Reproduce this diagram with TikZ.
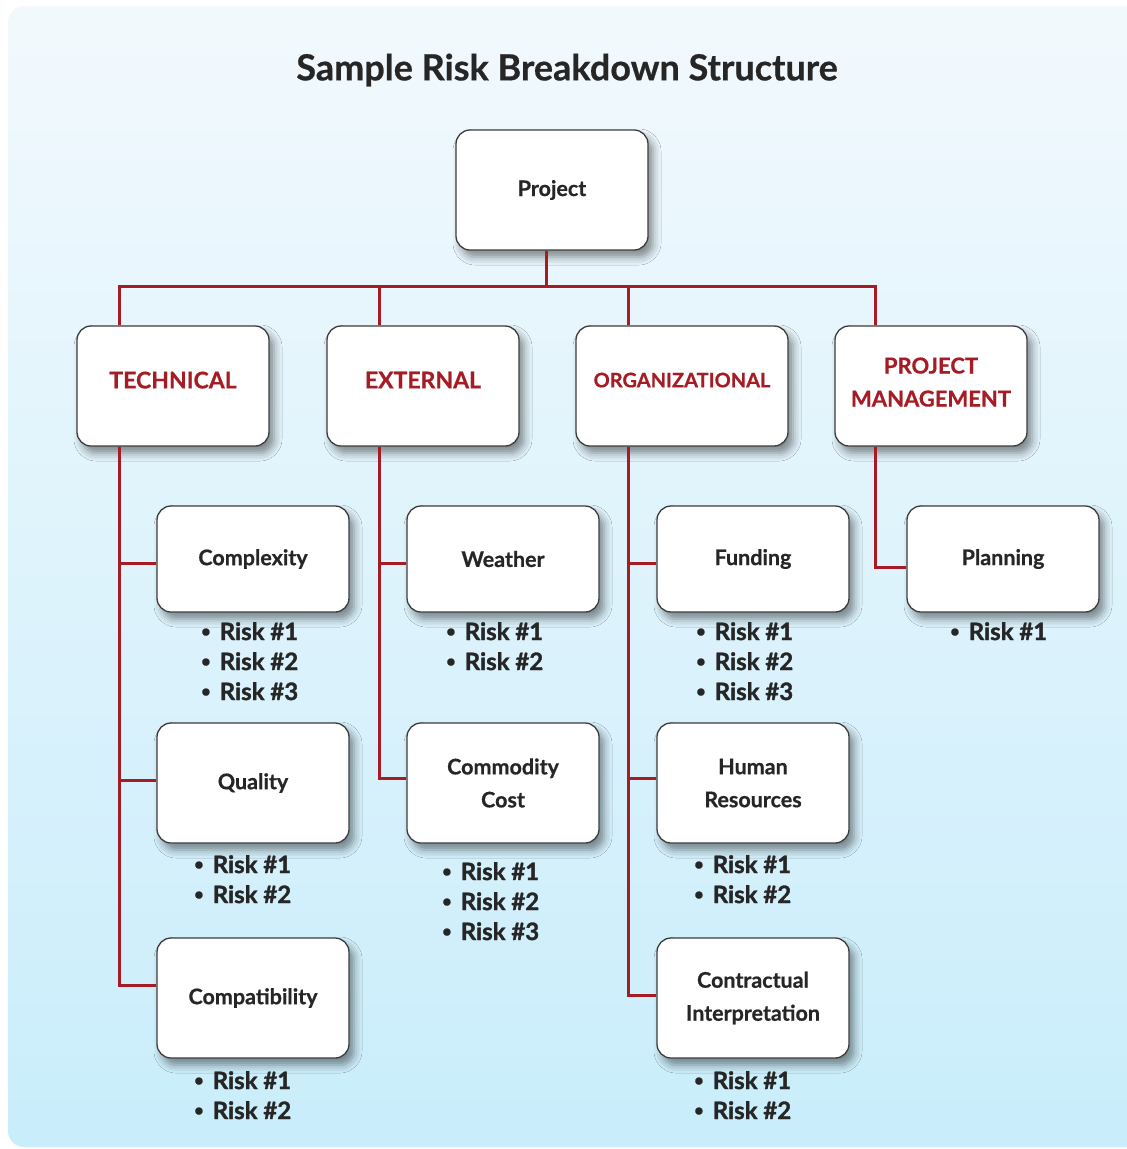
\documentclass[tikz,border=0pt]{standalone}
\usepackage{fontspec}
\setmainfont{Lato}[BoldFeatures={FakeBold=0.6}]
\newfontfamily\riskfont[FakeBold=1.3]{Lato Bold}
\usetikzlibrary{shadows.blur}
\definecolor{rbsred}{HTML}{A51C24}
\definecolor{ink}{HTML}{262626}
\definecolor{edge}{HTML}{3C3C3C}
\definecolor{bgtop}{HTML}{F2F9FD}
\definecolor{bgbot}{HTML}{C9EDFB}
\newcommand\rbul{\raisebox{0.13em}{\scalebox{0.68}{\textbullet}}\hspace{0.38em}}
\begin{document}
\begin{tikzpicture}[x=1pt,y=-1pt,
  box/.style={draw=edge, line width=1.3pt, fill=white, rounded corners=14pt,
    minimum width=192pt, minimum height=106pt, inner sep=2pt, align=center, text=ink,
    blur shadow={shadow xshift=5pt, shadow yshift=-7pt, shadow blur radius=8pt, shadow opacity=45}},
  cat/.style={box, minimum height=120pt, text=rbsred, text depth=12pt, font=\bfseries\fontsize{23}{33}\selectfont},
  sub/.style={box, font=\bfseries\fontsize{21.5}{33}\selectfont},
  risk/.style={anchor=north west, inner sep=0pt, align=left, text=ink, font=\riskfont\fontsize{24}{30}\selectfont},
  conn/.style={draw=rbsred, line width=3pt}]
\useasboundingbox (0,0) rectangle (1127,1149);
\shade[top color=bgtop, bottom color=bgbot, rounded corners=16pt] (8,6) rectangle (1160,1147);

\node[text=ink, font=\bfseries\fontsize{36}{40}\selectfont] (title) at (567,70) {Sample Risk Breakdown Structure};

\node[box, minimum height=120pt, font=\bfseries\fontsize{21.5}{33}\selectfont] (proj) at (552,190) {Project};

\node[cat] (tech) at (173,386) {TECHNICAL};
\node[cat] (ext) at (423,386) {EXTERNAL};
\node[cat, minimum width=212pt, font=\bfseries\fontsize{20}{33}\selectfont] (org) at (682,386) {ORGANIZATIONAL};
\node[cat, text depth=8pt, font=\bfseries\fontsize{22}{33}\selectfont] (pm) at (931,386) {PROJECT\\MANAGEMENT};

\node[sub] (complex) at (253,559) {Complexity};
\node[sub, minimum height=120pt] (quality) at (253,783) {Quality};
\node[sub, minimum height=120pt] (compat) at (253,998) {Compatibility};
\node[sub] (weather) at (503,559) {Weather};
\node[sub, minimum height=120pt] (commodity) at (503,783) {Commodity\\Cost};
\node[sub] (funding) at (753,559) {Funding};
\node[sub, minimum height=120pt] (hr) at (753,783) {Human\\Resources};
\node[sub, minimum height=120pt] (contract) at (753,998) {Contractual\\Interpretation};
\node[sub] (planning) at (1003,559) {Planning};

\node[risk] (complexR) at (201,622) {\rbul Risk \#1\\\rbul Risk \#2\\\rbul Risk \#3};
\node[risk] (qualityR) at (194,855) {\rbul Risk \#1\\\rbul Risk \#2};
\node[risk] (compatR) at (194,1071) {\rbul Risk \#1\\\rbul Risk \#2};
\node[risk] (weatherR) at (446,622) {\rbul Risk \#1\\\rbul Risk \#2};
\node[risk] (commodityR) at (442,862) {\rbul Risk \#1\\\rbul Risk \#2\\\rbul Risk \#3};
\node[risk] (fundingR) at (696,622) {\rbul Risk \#1\\\rbul Risk \#2\\\rbul Risk \#3};
\node[risk] (hrR) at (694,855) {\rbul Risk \#1\\\rbul Risk \#2};
\node[risk] (contractR) at (694,1071) {\rbul Risk \#1\\\rbul Risk \#2};
\node[risk] (planningR) at (950,622) {\rbul Risk \#1};

% top level connectors
\draw[conn] ([xshift=-6pt]proj.south) -- ++(0,37);
\draw[conn] ([xshift=-54pt]tech.north) -- ++(0,-39) -| ([xshift=-56pt]pm.north);
\draw[conn] ([xshift=-44pt]ext.north) -- ++(0,-39);
\draw[conn] ([xshift=-54pt]org.north) -- ++(0,-39);

% technical
\draw[conn] ([xshift=-54pt]tech.south) |- ([yshift=13pt]compat.west);
\draw[conn] ([yshift=-4pt]complex.west) -- ++(-38,0);
\draw[conn] ([yshift=3pt]quality.west) -- ++(-38,0);
% external
\draw[conn] ([xshift=-44pt]ext.south) |- ([yshift=5pt]commodity.west);
\draw[conn] ([yshift=-4pt]weather.west) -- ++(-28,0);
% organizational
\draw[conn] ([xshift=-54pt]org.south) |- ([yshift=3pt]contract.west);
\draw[conn] ([yshift=-4pt]funding.west) -- ++(-29,0);
\draw[conn] ([yshift=5pt]hr.west) -- ++(-29,0);
% project management
\draw[conn] ([xshift=-56pt]pm.south) |- ([yshift=-8pt]planning.west);
\end{tikzpicture}
\end{document}
